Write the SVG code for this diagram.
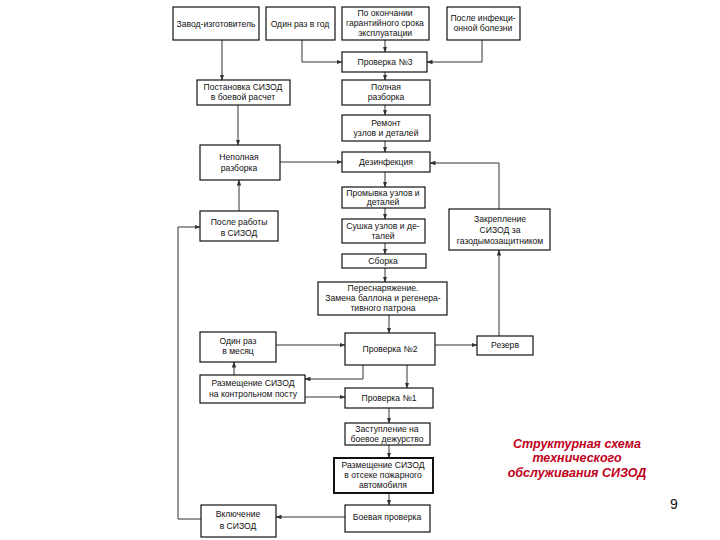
<svg xmlns="http://www.w3.org/2000/svg" width="720" height="540" viewBox="0 0 720 540">
<style>
.b{fill:#fff;stroke:#111;stroke-width:1.2}
.bt{fill:#fff;stroke:#111;stroke-width:2}
text{font-family:"Liberation Sans",Arial,sans-serif;font-size:8.6px;fill:#111;text-anchor:middle}
.c path{fill:none;stroke:#333;stroke-width:1}
.t{font-family:"Liberation Sans",Arial,sans-serif;font-size:12.5px;font-weight:bold;font-style:italic;fill:#c0001c}
</style>
<defs>
<marker id="a" markerWidth="6" markerHeight="6" refX="5.5" refY="3" orient="auto" markerUnits="userSpaceOnUse">
<path d="M0,0.8 L6,3 L0,5.2 Z" fill="#333"/>
</marker>
</defs>
<rect width="720" height="540" fill="#fff"/>
<g class="c">
<path d="M222,40 V80" marker-end="url(#a)"/>
<path d="M302,40 V62 H342" marker-end="url(#a)"/>
<path d="M385,40 V52" marker-end="url(#a)"/>
<path d="M482,40 V62 H427" marker-end="url(#a)"/>
<path d="M385,72 V80" marker-end="url(#a)"/>
<path d="M385,105 V115" marker-end="url(#a)"/>
<path d="M385,141 V152" marker-end="url(#a)"/>
<path d="M238,105 V145" marker-end="url(#a)"/>
<path d="M280,162 H342" marker-end="url(#a)"/>
<path d="M499,209 V163 H430" marker-end="url(#a)"/>
<path d="M385,172 V187" marker-end="url(#a)"/>
<path d="M385,208 V219" marker-end="url(#a)"/>
<path d="M385,243 V254" marker-end="url(#a)"/>
<path d="M385,268 V282" marker-end="url(#a)"/>
<path d="M389,315 V333" marker-end="url(#a)"/>
<path d="M239,211 V180" marker-end="url(#a)"/>
<path d="M435,345 H477" marker-end="url(#a)"/>
<path d="M499,336 V250" marker-end="url(#a)"/>
<path d="M276,345 H345" marker-end="url(#a)"/>
<path d="M234,375 V362" marker-end="url(#a)"/>
<path d="M363,365 V379 H305" marker-end="url(#a)"/>
<path d="M407,365 V388" marker-end="url(#a)"/>
<path d="M305,397 H345" marker-end="url(#a)"/>
<path d="M389,408 V423" marker-end="url(#a)"/>
<path d="M389,445 V458" marker-end="url(#a)"/>
<path d="M389,493 V505" marker-end="url(#a)"/>
<path d="M345,517 H276" marker-end="url(#a)" style="stroke:#999;stroke-width:1.8"/>
<path d="M201,519 H178 V227 H200" marker-end="url(#a)"/>
</g>
<g id="n1"><rect class="b" x="173" y="7" width="86" height="33"/><text x="216" y="27">Завод-изготовитель</text></g>
<g id="n2"><rect class="b" x="266" y="7" width="69" height="33"/><text x="300" y="27">Один раз в год</text></g>
<g id="n3"><rect class="b" x="342" y="7" width="87" height="33"/><text x="385" y="16">По окончании</text><text x="385" y="26">гарантийного срока</text><text x="385" y="36">эксплуатации</text></g>
<g id="n4"><rect class="b" x="447" y="7" width="73" height="33"/><text x="483" y="21">После инфекци-</text><text x="483" y="31">онной болезни</text></g>
<g id="n5"><rect class="b" x="342" y="52" width="85" height="20"/><text x="385" y="65">Проверка №3</text></g>
<g id="n6"><rect class="b" x="197" y="80" width="93" height="25"/><text x="243" y="90">Постановка СИЗОД</text><text x="243" y="100">в боевой расчет</text></g>
<g id="n7"><rect class="b" x="342" y="80" width="88" height="25"/><text x="386" y="90">Полная</text><text x="386" y="100">разборка</text></g>
<g id="n8"><rect class="b" x="342" y="115" width="88" height="26"/><text x="386" y="126">Ремонт</text><text x="386" y="136">узлов и деталей</text></g>
<g id="n9"><rect class="b" x="342" y="152" width="88" height="20"/><text x="386" y="165">Дезинфекция</text></g>
<g id="n10"><rect class="b" x="200" y="145" width="80" height="35"/><text x="239" y="160">Неполная</text><text x="239" y="171">разборка</text></g>
<g id="n11"><rect class="b" x="342" y="187" width="83" height="21"/><text x="383" y="196">Промывка узлов и</text><text x="383" y="205">деталей</text></g>
<g id="n12"><rect class="b" x="200" y="211" width="78" height="30"/><text x="239" y="225">После работы</text><text x="239" y="236">в СИЗОД</text></g>
<g id="n13"><rect class="b" x="342" y="219" width="83" height="24"/><text x="383" y="229">Сушка узлов и де-</text><text x="383" y="239">талей</text></g>
<g id="n14"><rect class="b" x="449" y="209" width="101" height="41"/><text x="500" y="222">Закрепление</text><text x="500" y="233">СИЗОД за</text><text x="500" y="244">газодымозащитником</text></g>
<g id="n15"><rect class="b" x="342" y="254" width="84" height="14"/><text x="383" y="264">Сборка</text></g>
<g id="n16"><rect class="b" x="318" y="282" width="129" height="33"/><text x="383" y="291">Переснаряжение.</text><text x="383" y="301">Замена баллона и регенера-</text><text x="383" y="311">тивного патрона</text></g>
<g id="n17"><rect class="b" x="200" y="332" width="76" height="30"/><text x="238" y="344">Один раз</text><text x="238" y="354">в месяц</text></g>
<g id="n18"><rect class="b" x="345" y="333" width="90" height="32"/><text x="390" y="352">Проверка №2</text></g>
<g id="n19"><rect class="b" x="477" y="336" width="56" height="19"/><text x="505" y="348">Резерв</text></g>
<g id="n20"><rect class="b" x="200" y="375" width="105" height="28"/><text x="253" y="386">Размещение СИЗОД</text><text x="253" y="397">на контрольном посту</text></g>
<g id="n21"><rect class="b" x="345" y="388" width="88" height="20"/><text x="389" y="401">Проверка №1</text></g>
<g id="n22"><rect class="b" x="345" y="423" width="85" height="22"/><text x="387" y="432">Заступление на</text><text x="387" y="442">боевое дежурство</text></g>
<g id="n23"><rect class="bt" x="334" y="458" width="99" height="35"/><text x="383" y="468">Размещение СИЗОД</text><text x="383" y="478">в отсеке пожарного</text><text x="383" y="488">автомобиля</text></g>
<g id="n24"><rect class="b" x="345" y="505" width="85" height="27"/><text x="387" y="520">Боевая проверка</text></g>
<g id="n25"><rect class="b" x="201" y="505" width="75" height="32"/><text x="238" y="517">Включение</text><text x="238" y="529">в СИЗОД</text></g>
<text class="t" x="577" y="448">Структурная схема</text>
<text class="t" x="577" y="462">технического</text>
<text class="t" x="577" y="477">обслуживания СИЗОД</text>
<text x="674" y="509" style="font-size:14px">9</text>
</svg>
